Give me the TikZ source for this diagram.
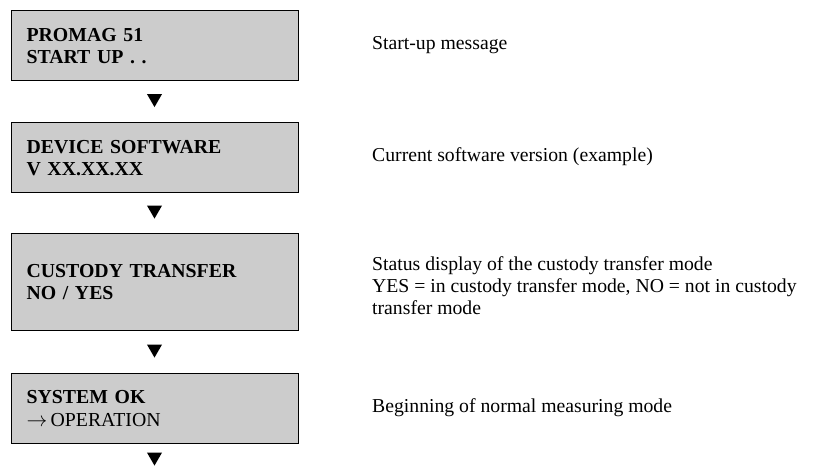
\documentclass[tikz,border=0pt]{standalone}
\usepackage{fontspec}
\setmainfont{Liberation Serif}
\usetikzlibrary{shapes.geometric}

\tikzset{
  lcdbox/.style={draw=black, line width=1.2pt, fill=black!20, rectangle, anchor=north west,
    text width=257pt, inner xsep=15pt, inner ysep=0pt, align=left,
    font=\fontsize{19.8}{22}\selectfont\bfseries, minimum height=70pt},
  stepmark/.style={isosceles triangle, isosceles triangle apex angle=60, shape border rotate=-90,
    fill=black, inner sep=0pt, minimum height=13pt, anchor=apex},
  infotext/.style={anchor=west, inner sep=0pt, align=left, font=\fontsize{19.7}{22}\selectfont}
}

\begin{document}
\begin{tikzpicture}[x=1pt,y=-1pt]
\useasboundingbox (0,0) rectangle (824,468);
\node[lcdbox] (promag) at (11,10) {PROMAG 51\\START UP . .};
\node[stepmark] (mark1) at (154.5,107.5) {};
\node[infotext] (msg1) at (372,45) {Start-up message};
\node[lcdbox] (devsw) at (11,122) {DEVICE SOFTWARE\\V XX.XX.XX};
\node[stepmark] (mark2) at (154.5,219) {};
\node[infotext] (msg2) at (372,157) {Current software version (example)};
\node[lcdbox, minimum height=97pt] (custody) at (11,233) {CUSTODY TRANSFER\\NO / YES};
\node[stepmark] (mark3) at (154.5,358) {};
\node[infotext] (msg3) at (372,286) {Status display of the custody transfer mode\\YES = in custody transfer mode, NO = not in custody\\transfer mode};
\node[lcdbox] (sysok) at (11,373) {SYSTEM OK\\[1pt]\mdseries$\rightarrow$\,OPERATION};
\node[stepmark] (mark4) at (154.5,466) {};
\node[infotext] (msg4) at (372,408) {Beginning of normal measuring mode};
\end{tikzpicture}
\end{document}
